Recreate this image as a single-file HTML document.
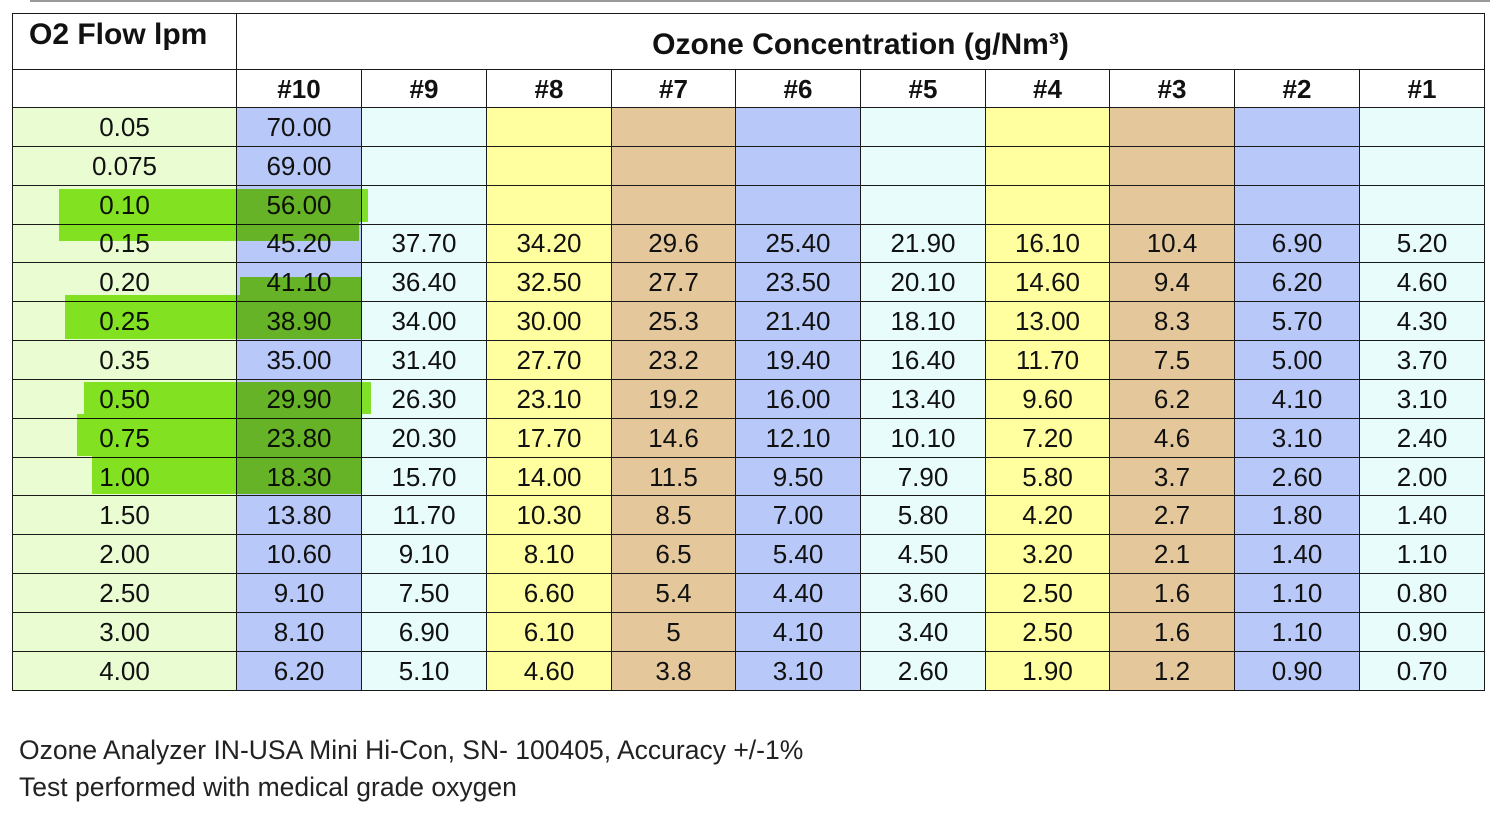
<!DOCTYPE html>
<html><head><meta charset="utf-8"><style>
body{margin:0;width:1505px;height:815px;background:#fff;position:relative;overflow:hidden;font-family:"Liberation Sans",Arial,sans-serif;}
table{position:absolute;left:12px;top:13px;border-collapse:collapse;table-layout:fixed;width:1472px;}
td{border:1.5px solid #1a1a1a;text-align:center;font-size:26px;color:#111;padding:0;height:37.85px;line-height:24px;overflow:hidden;}
tr.h1 td{height:49px;font-weight:bold;font-size:30px;background:#fff;}
tr.h2 td{height:37px;font-weight:bold;font-size:26px;background:#fff;}
td.g{background:#e9fcd2}
td.b{background:#b8c8f8}
td.c{background:#e8fcfc}
td.y{background:#ffffa0}
td.t{background:#e4c89c}
.hl{position:absolute;background:#8ee428;mix-blend-mode:multiply;}
.cap{position:absolute;left:19px;font-size:26.5px;color:#222;}
.topline{position:absolute;left:30px;top:0;width:1460px;height:2px;background:#999;}
</style></head><body>
<div class="topline"></div>
<table>
<colgroup><col style="width:224px"><col style="width:125px"><col style="width:125px"><col style="width:125px"><col style="width:124px"><col style="width:125px"><col style="width:125px"><col style="width:124px"><col style="width:125px"><col style="width:125px"><col style="width:125px"></colgroup>
<tr class="h1"><td style="text-align:left;padding-left:16px;vertical-align:top;padding-top:4px;line-height:34px;">O2 Flow lpm</td><td colspan="10" style="padding-top:6px">Ozone Concentration (g/Nm³)</td></tr>
<tr class="h2"><td></td><td>#10</td><td>#9</td><td>#8</td><td>#7</td><td>#6</td><td>#5</td><td>#4</td><td>#3</td><td>#2</td><td>#1</td></tr>
<tr><td class="g">0.05</td><td class="b">70.00</td><td class="c"></td><td class="y"></td><td class="t"></td><td class="b"></td><td class="c"></td><td class="y"></td><td class="t"></td><td class="b"></td><td class="c"></td></tr>
<tr><td class="g">0.075</td><td class="b">69.00</td><td class="c"></td><td class="y"></td><td class="t"></td><td class="b"></td><td class="c"></td><td class="y"></td><td class="t"></td><td class="b"></td><td class="c"></td></tr>
<tr><td class="g">0.10</td><td class="b">56.00</td><td class="c"></td><td class="y"></td><td class="t"></td><td class="b"></td><td class="c"></td><td class="y"></td><td class="t"></td><td class="b"></td><td class="c"></td></tr>
<tr><td class="g">0.15</td><td class="b">45.20</td><td class="c">37.70</td><td class="y">34.20</td><td class="t">29.6</td><td class="b">25.40</td><td class="c">21.90</td><td class="y">16.10</td><td class="t">10.4</td><td class="b">6.90</td><td class="c">5.20</td></tr>
<tr><td class="g">0.20</td><td class="b">41.10</td><td class="c">36.40</td><td class="y">32.50</td><td class="t">27.7</td><td class="b">23.50</td><td class="c">20.10</td><td class="y">14.60</td><td class="t">9.4</td><td class="b">6.20</td><td class="c">4.60</td></tr>
<tr><td class="g">0.25</td><td class="b">38.90</td><td class="c">34.00</td><td class="y">30.00</td><td class="t">25.3</td><td class="b">21.40</td><td class="c">18.10</td><td class="y">13.00</td><td class="t">8.3</td><td class="b">5.70</td><td class="c">4.30</td></tr>
<tr><td class="g">0.35</td><td class="b">35.00</td><td class="c">31.40</td><td class="y">27.70</td><td class="t">23.2</td><td class="b">19.40</td><td class="c">16.40</td><td class="y">11.70</td><td class="t">7.5</td><td class="b">5.00</td><td class="c">3.70</td></tr>
<tr><td class="g">0.50</td><td class="b">29.90</td><td class="c">26.30</td><td class="y">23.10</td><td class="t">19.2</td><td class="b">16.00</td><td class="c">13.40</td><td class="y">9.60</td><td class="t">6.2</td><td class="b">4.10</td><td class="c">3.10</td></tr>
<tr><td class="g">0.75</td><td class="b">23.80</td><td class="c">20.30</td><td class="y">17.70</td><td class="t">14.6</td><td class="b">12.10</td><td class="c">10.10</td><td class="y">7.20</td><td class="t">4.6</td><td class="b">3.10</td><td class="c">2.40</td></tr>
<tr><td class="g">1.00</td><td class="b">18.30</td><td class="c">15.70</td><td class="y">14.00</td><td class="t">11.5</td><td class="b">9.50</td><td class="c">7.90</td><td class="y">5.80</td><td class="t">3.7</td><td class="b">2.60</td><td class="c">2.00</td></tr>
<tr><td class="g">1.50</td><td class="b">13.80</td><td class="c">11.70</td><td class="y">10.30</td><td class="t">8.5</td><td class="b">7.00</td><td class="c">5.80</td><td class="y">4.20</td><td class="t">2.7</td><td class="b">1.80</td><td class="c">1.40</td></tr>
<tr><td class="g">2.00</td><td class="b">10.60</td><td class="c">9.10</td><td class="y">8.10</td><td class="t">6.5</td><td class="b">5.40</td><td class="c">4.50</td><td class="y">3.20</td><td class="t">2.1</td><td class="b">1.40</td><td class="c">1.10</td></tr>
<tr><td class="g">2.50</td><td class="b">9.10</td><td class="c">7.50</td><td class="y">6.60</td><td class="t">5.4</td><td class="b">4.40</td><td class="c">3.60</td><td class="y">2.50</td><td class="t">1.6</td><td class="b">1.10</td><td class="c">0.80</td></tr>
<tr><td class="g">3.00</td><td class="b">8.10</td><td class="c">6.90</td><td class="y">6.10</td><td class="t">5</td><td class="b">4.10</td><td class="c">3.40</td><td class="y">2.50</td><td class="t">1.6</td><td class="b">1.10</td><td class="c">0.90</td></tr>
<tr><td class="g">4.00</td><td class="b">6.20</td><td class="c">5.10</td><td class="y">4.60</td><td class="t">3.8</td><td class="b">3.10</td><td class="c">2.60</td><td class="y">1.90</td><td class="t">1.2</td><td class="b">0.90</td><td class="c">0.70</td></tr>
</table>
<div class="hl" style="left:59px;top:189px;width:309px;height:33px;"></div>
<div class="hl" style="left:59px;top:222px;width:300px;height:19px;"></div>
<div class="hl" style="left:240px;top:277px;width:122px;height:18px;"></div>
<div class="hl" style="left:65px;top:295px;width:297px;height:44px;"></div>
<div class="hl" style="left:84px;top:382px;width:287px;height:32px;"></div>
<div class="hl" style="left:77px;top:414px;width:285px;height:42px;"></div>
<div class="hl" style="left:92px;top:456px;width:270px;height:38px;"></div>
<div class="cap" style="top:735px;">Ozone Analyzer IN-USA Mini Hi-Con, SN- 100405, Accuracy +/-1%</div>
<div class="cap" style="top:772px;">Test performed with medical grade oxygen</div>
</body></html>
